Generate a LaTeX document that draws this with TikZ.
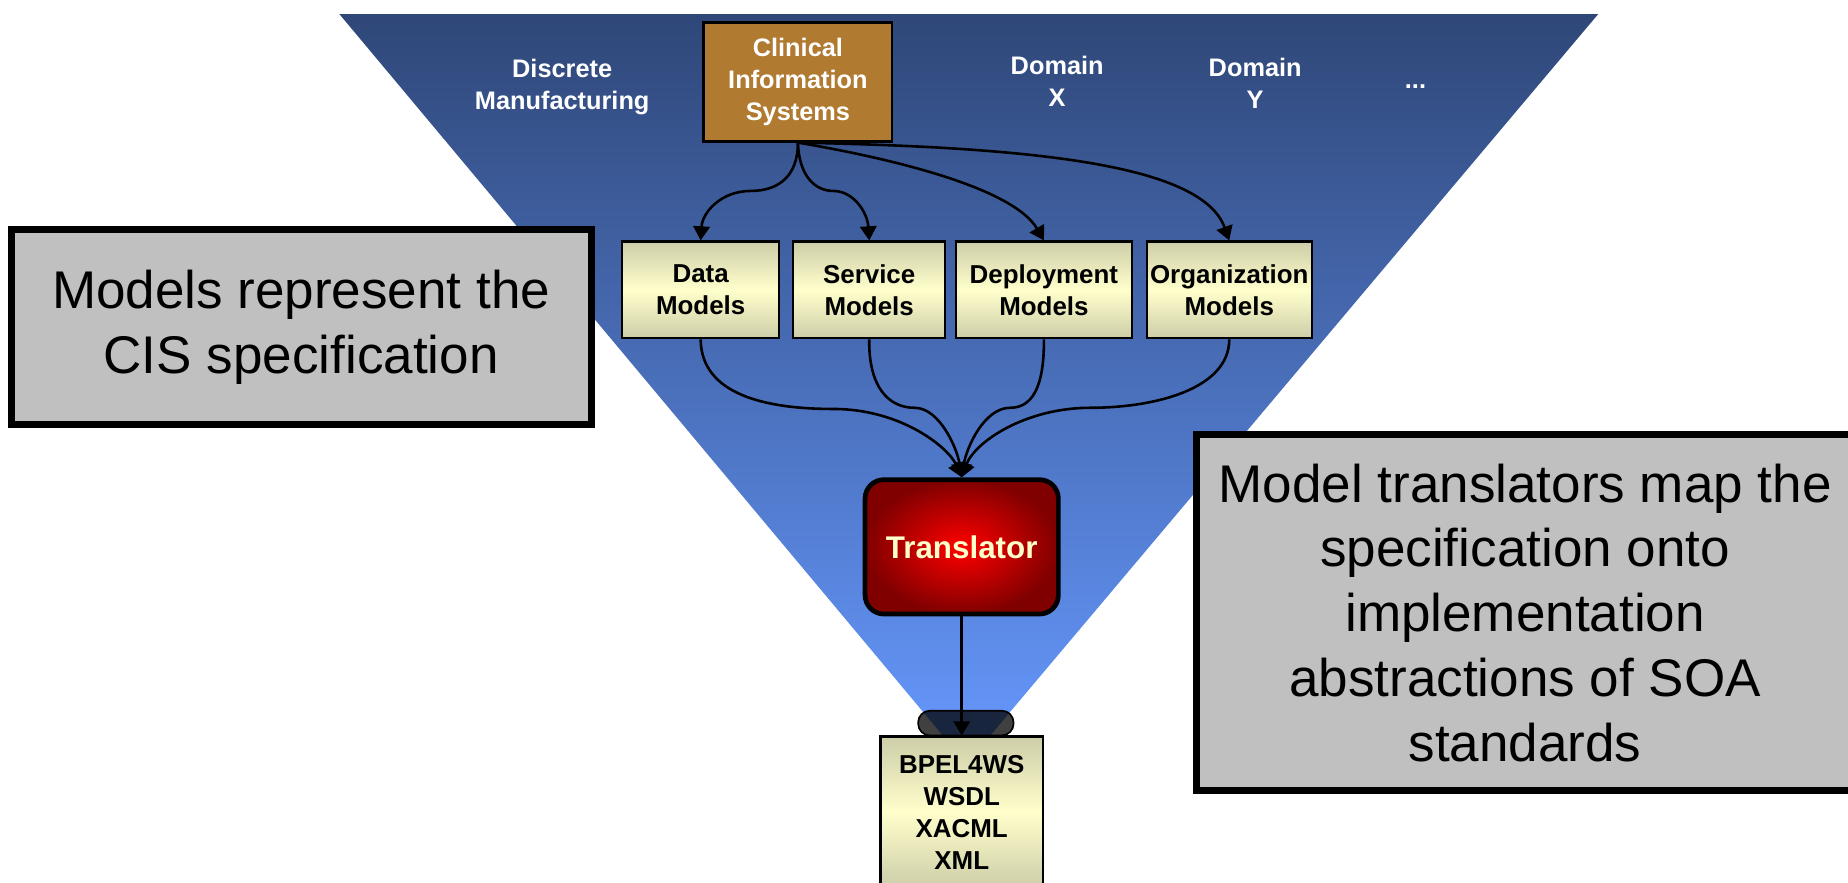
\documentclass[tikz,border=0pt]{standalone}
\usepackage{fontspec}
\setmainfont{Liberation Sans}
\usetikzlibrary{arrows.meta}
\definecolor{tritop}{RGB}{47,71,120}
\definecolor{tribot}{RGB}{102,153,255}
\definecolor{cisfill}{RGB}{176,122,48}
\definecolor{mtop}{RGB}{205,205,168}
\definecolor{mmid}{RGB}{255,255,204}
\definecolor{callgray}{RGB}{192,192,192}
\definecolor{trdark}{RGB}{128,0,0}
\definecolor{trtext}{RGB}{255,255,204}
\newcommand\myfs[2]{\fontsize{#1}{#2}\selectfont}
\begin{document}
\begin{tikzpicture}[x=0.5pt,y=-0.5pt,
  wlabel/.style={text=white, font=\bfseries\myfs{10.75pt}{13.5pt}, align=center, inner sep=0pt},
  cisbox/.style={draw=black, line width=1pt, fill=cisfill, text=white, font=\bfseries\myfs{10.75pt}{13.5pt}, align=center, minimum width=80pt, minimum height=50.5pt, inner sep=0pt},
  modelbox/.style={draw=black, line width=1pt, top color=mtop, bottom color=mtop, middle color=mmid, minimum height=41pt, align=center, font=\bfseries\myfs{11pt}{13.6pt}, inner sep=0pt},
  transbox/.style={draw=black, line width=2pt, rounded corners=8pt, minimum width=82pt, minimum height=57pt, inner color=red, outer color=trdark, text=trtext, font=\bfseries\myfs{13.3pt}{16pt}},
  capsule/.style={draw=black, line width=0.7pt, fill=black, fill opacity=0.75, rounded corners=5pt, minimum width=40.5pt, minimum height=10.5pt, inner sep=0pt},
  callout/.style={draw=black, line width=3pt, fill=callgray, align=center, font=\myfs{22.5pt}{27.5pt}, inner sep=0pt},
  conn/.style={draw=black, line width=1.1pt, -{Triangle[length=6pt,width=7pt]}}
]
\useasboundingbox (0,0) rectangle (1568,749);
% funnel
\shade[top color=tritop, bottom color=tribot] (288,12) -- (1356,12) -- (820,648) -- cycle;
\node[capsule] (cap) at (819.5,613.5) {};
% top labels
\node[wlabel] (disc) at (477,73.5) {Discrete\\Manufacturing};
\node[cisbox] (cis) at (677,69.5) {Clinical\\Information\\Systems};
\node[wlabel] (dx) at (897,69) {Domain\\X};
\node[wlabel] (dy) at (1065,71) {Domain\\Y};
\node[wlabel, anchor=base] (dots) at (1201,75) {...};
% models
\node[modelbox, minimum width=66.5pt] (data) at (594.5,246) {Data\\Models};
\node[modelbox, minimum width=64.5pt] (serv) at (737.5,246) {Service\\Models};
\node[modelbox, minimum width=74.75pt] (depl) at (885.75,246) {Deployment\\Models};
\node[modelbox, minimum width=70pt] (org) at (1043,246) {Organization\\Models};
% translator
\node[transbox] (trans) at (816,464) {Translator};
% standards
\node[modelbox, minimum width=69pt, minimum height=64pt] (std) at (816,689) {BPEL4WS\\WSDL\\XACML\\XML};
% callouts
\node[callout, minimum width=246pt, minimum height=83pt] (cl) at (255.5,277.5) {Models represent the\\CIS specification};
\node[callout, minimum width=279pt, minimum height=151pt] (cr) at (1294,520) {Model translators map the\\specification onto\\implementation\\abstractions of SOA\\standards};
% connectors from CIS
\draw[conn] (cis.south) .. controls (677,150) and (660,162) .. (637,162) .. controls (612,162) and (596,180) .. (data.north);
\draw[conn] (cis.south) .. controls (678,150) and (692,162) .. (707,162) .. controls (724,162) and (736,180) .. (serv.north);
\draw[conn] (cis.south) .. controls (760,135) and (860,160) .. (depl.north);
\draw[conn] (cis.south) .. controls (880,125) and (1020,140) .. (org.north);
% connectors to translator
\draw[conn] (data.south) .. controls (595,335) and (650,347) .. (707,347) .. controls (765,347) and (805,380) .. (trans.north);
\draw[conn] (serv.south) .. controls (737,330) and (755,346) .. (776,346) .. controls (797,346) and (812,380) .. (trans.north);
\draw[conn] (depl.south) .. controls (886,330) and (875,346) .. (857,346) .. controls (835,346) and (820,380) .. (trans.north);
\draw[conn] (org.south) .. controls (1043,330) and (980,346) .. (925,346) .. controls (870,346) and (827,375) .. (trans.north);
% translator to standards
\draw[conn] (trans.south) -- (std.north);
\end{tikzpicture}
\end{document}
